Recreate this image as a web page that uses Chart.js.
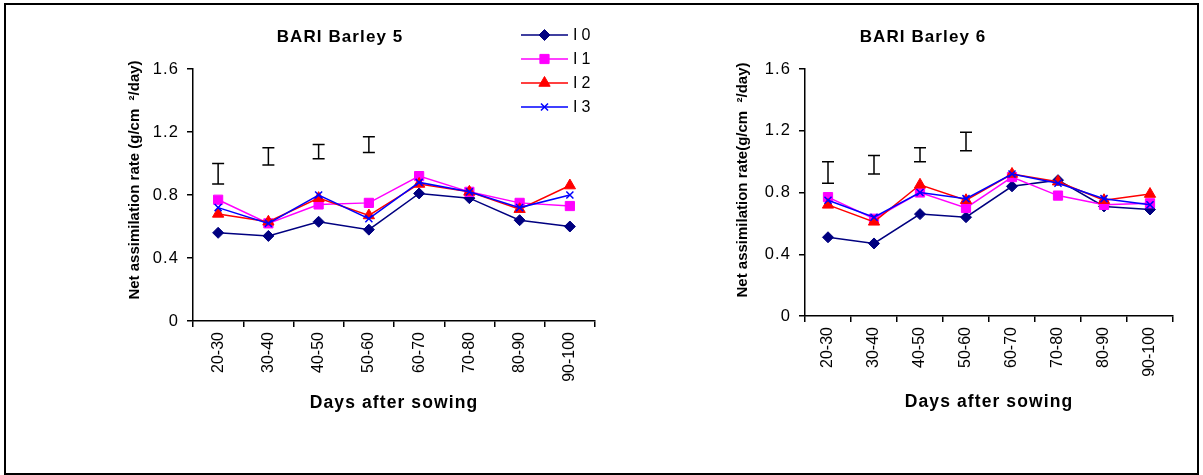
<!DOCTYPE html>
<html>
<head>
<meta charset="utf-8">
<script src="https://cdn.jsdelivr.net/npm/chart.js@4.4.1/dist/chart.umd.min.js"></script>
<style>
  html, body { margin: 0; padding: 0; background: #fff; }
  #page { position: relative; width: 1203px; height: 475px; overflow: hidden; background: #fff; }
  #frame { position: absolute; left: 4px; top: 3px; width: 1195px; height: 472px; box-sizing: border-box; border: 2px solid #000; pointer-events: none; }
  canvas { position: absolute; top: 0; }
  #c5 { left: 0; }
  #c6 { left: 620px; }
</style>
</head>
<body>
<div id="page">
  <canvas id="c5" width="620" height="475"></canvas>
  <canvas id="c6" width="583" height="475"></canvas>
  <div id="frame"></div>
</div>
<script>
// Sampling intervals (days after sowing)
const categories = ['20-30', '30-40', '40-50', '50-60', '60-70', '70-80', '80-90', '90-100'];

// Net assimilation rate, BARI Barley 5
const b5I0 = [0.56, 0.54, 0.63, 0.58, 0.81, 0.78, 0.64, 0.60];
const b5I1 = [0.77, 0.62, 0.74, 0.75, 0.92, 0.82, 0.75, 0.73];
const b5I2 = [0.68, 0.63, 0.78, 0.67, 0.87, 0.82, 0.71, 0.86];
const b5I3 = [0.72, 0.62, 0.80, 0.65, 0.88, 0.82, 0.72, 0.80];
// LSD bars for the first four intervals
const b5LsdHigh = [1.00, 1.10, 1.12, 1.17];
const b5LsdLow  = [0.87, 0.99, 1.03, 1.07];

// Net assimilation rate, BARI Barley 6
const b6I0 = [0.51, 0.47, 0.66, 0.64, 0.84, 0.88, 0.71, 0.69];
const b6I1 = [0.77, 0.63, 0.80, 0.70, 0.90, 0.78, 0.72, 0.73];
const b6I2 = [0.72, 0.61, 0.85, 0.75, 0.92, 0.87, 0.75, 0.79];
const b6I3 = [0.75, 0.64, 0.80, 0.76, 0.92, 0.86, 0.76, 0.72];
const b6LsdHigh = [1.00, 1.04, 1.09, 1.19];
const b6LsdLow  = [0.86, 0.92, 1.00, 1.07];

const seriesNames = ['I0', 'I1', 'I2', 'I3'];
const yTicks = [0, 0.4, 0.8, 1.2, 1.6];

const FONT = "'Liberation Sans', Arial, Helvetica, sans-serif";

const seriesStyle = [
  { color: '#000080', pointStyle: 'rectRot',  radius: 5.5, borderWidth: 1 },
  { color: '#FF00FF', pointStyle: 'rect',     radius: 6.5, borderWidth: 1 },
  { color: '#FF0000', pointStyle: 'triangle', radius: 6.5, borderWidth: 1 },
  { color: '#0000FF', pointStyle: 'crossRot', radius: 5,   borderWidth: 1.5 }
];

// Horizontal text is set slightly wide; rotated tick labels are not
const textSpacing = {
  id: 'textSpacing',
  beforeDraw(chart) { chart.ctx.letterSpacing = '1.1px'; },
  afterDatasetsDraw(chart) { chart.ctx.letterSpacing = '0px'; }
};

// I-shaped LSD bars at the category centres
const lsdBars = {
  id: 'lsdBars',
  afterDatasetsDraw(chart, args, opts) {
    const { ctx, scales: { x, y } } = chart;
    ctx.save();
    ctx.strokeStyle = '#000';
    ctx.lineWidth = 1.5;
    opts.high.forEach((hi, i) => {
      const px = x.getPixelForValue(i);
      const top = y.getPixelForValue(hi);
      const bot = y.getPixelForValue(opts.low[i]);
      ctx.beginPath();
      ctx.moveTo(px, top); ctx.lineTo(px, bot);
      ctx.moveTo(px - 6, top); ctx.lineTo(px + 6, top);
      ctx.moveTo(px - 6, bot); ctx.lineTo(px + 6, bot);
      ctx.stroke();
    });
    ctx.restore();
  }
};

// Vertical value-axis caption
const yCaption = {
  id: 'yCaption',
  afterDraw(chart, args, opts) {
    const { ctx, chartArea } = chart;
    ctx.save();
    ctx.letterSpacing = '0px';
    ctx.translate(chartArea.left - opts.dx, chartArea.top + opts.dy);
    ctx.rotate(-Math.PI / 2);
    ctx.font = 'bold 15px ' + FONT;
    ctx.fillStyle = '#000';
    ctx.textAlign = 'center';
    ctx.textBaseline = 'middle';
    ctx.fillText(opts.text, 0, 0);
    ctx.restore();
  }
};

// Series key with line-and-marker swatches
const seriesKey = {
  id: 'seriesKey',
  afterDraw(chart, args, opts) {
    if (!opts.show) return;
    const { ctx } = chart;
    ctx.save();
    ctx.letterSpacing = '4px';
    ctx.font = '16px ' + FONT;
    ctx.textBaseline = 'middle';
    chart.data.datasets.forEach((ds, i) => {
      const yy = opts.y + i * opts.step;
      ctx.strokeStyle = ds.borderColor;
      ctx.lineWidth = 1.5;
      ctx.beginPath();
      ctx.moveTo(opts.x, yy); ctx.lineTo(opts.x + opts.len, yy);
      ctx.stroke();
      ctx.fillStyle = ds.pointBackgroundColor;
      ctx.strokeStyle = ds.pointBorderColor;
      ctx.lineWidth = ds.pointBorderWidth;
      Chart.helpers.drawPoint(ctx, { pointStyle: ds.pointStyle, radius: ds.pointRadius, borderWidth: ds.pointBorderWidth, rotation: 0 }, opts.x + opts.len / 2, yy);
      ctx.fillStyle = '#000';
      ctx.fillText(ds.label, opts.x + opts.len + 5, yy + 1);
    });
    ctx.restore();
  }
};

function makeDatasets(values) {
  return values.map((data, i) => {
    const st = seriesStyle[i];
    return {
      label: seriesNames[i],
      data,
      borderColor: st.color,
      backgroundColor: st.color,
      borderWidth: 1.5,
      pointStyle: st.pointStyle,
      pointRadius: st.radius,
      pointBackgroundColor: st.color,
      pointBorderColor: st.color,
      pointBorderWidth: st.borderWidth,
      tension: 0,
      order: 4 - i
    };
  });
}

function makeChart(id, cfg) {
  return new Chart(document.getElementById(id), {
    type: 'line',
    data: { labels: categories, datasets: makeDatasets(cfg.values) },
    plugins: [textSpacing, lsdBars, yCaption, seriesKey],
    options: {
      responsive: false,
      animation: false,
      devicePixelRatio: 1,
      events: [],
      layout: { padding: { left: cfg.padLeft, right: cfg.padRight, top: 0, bottom: 0 } },
      plugins: {
        legend: { display: false },
        tooltip: { enabled: false },
        title: {
          display: true,
          text: cfg.title,
          color: '#000',
          font: { family: FONT, size: 17, weight: 'bold' },
          padding: { top: 26.8, bottom: 21.8 }
        },
        lsdBars: { high: cfg.lsdHigh, low: cfg.lsdLow },
        yCaption: { text: cfg.yTitle, dx: cfg.captionDx, dy: cfg.captionDy },
        seriesKey: { show: !!cfg.key, x: 521, y: 35, step: 24, len: 47 }
      },
      scales: {
        x: {
          type: 'category',
          offset: true,
          grid: { offset: true, drawOnChartArea: false, drawTicks: true, tickLength: 6, color: '#000', lineWidth: 1.5 },
          border: { display: true, color: '#000', width: 1.5 },
          ticks: { autoSkip: false, minRotation: 90, maxRotation: 90, padding: 5, color: '#000', font: { family: FONT, size: 16 }, z: 1 },
          title: {
            display: true,
            text: 'Days after sowing',
            color: '#000',
            font: { family: FONT, size: 17.5, weight: 'bold' },
            padding: { top: 0, bottom: cfg.xTitlePad }
          },
          afterFit(s) { s.height = cfg.xHeight; }
        },
        y: {
          type: 'linear',
          min: 0,
          max: 1.6,
          afterBuildTicks(s) { s.ticks = yTicks.map(v => ({ value: v })); },
          grid: { drawOnChartArea: false, drawTicks: true, tickLength: 6, color: '#000', lineWidth: 1.5 },
          border: { display: true, color: '#000', width: 1.5 },
          ticks: { padding: 8, color: '#000', font: { family: FONT, size: 16.5 }, callback: v => String(v) },
          title: { display: false },
          afterFit(s) { s.width = cfg.yWidth; }
        }
      }
    }
  });
}

makeChart('c5', {
  title: 'BARI Barley 5',
  yTitle: 'Net assimilation rate (g/cm  \u00B2/day)',
  values: [b5I0, b5I1, b5I2, b5I3],
  lsdHigh: b5LsdHigh, lsdLow: b5LsdLow,
  padLeft: 85, padRight: 25, yWidth: 108, xHeight: 154, xTitlePad: 61.5,
  captionDx: 58, captionDy: 111, key: true
});

makeChart('c6', {
  title: 'BARI Barley 6',
  yTitle: 'Net assimilation rate(g/cm  \u00B2/day)',
  values: [b6I0, b6I1, b6I2, b6I3],
  lsdHigh: b6LsdHigh, lsdLow: b6LsdLow,
  padLeft: 53, padRight: 30, yWidth: 132, xHeight: 159, xTitlePad: 62.5,
  captionDx: 62, captionDy: 111, key: false
});
</script>
</body>
</html>
